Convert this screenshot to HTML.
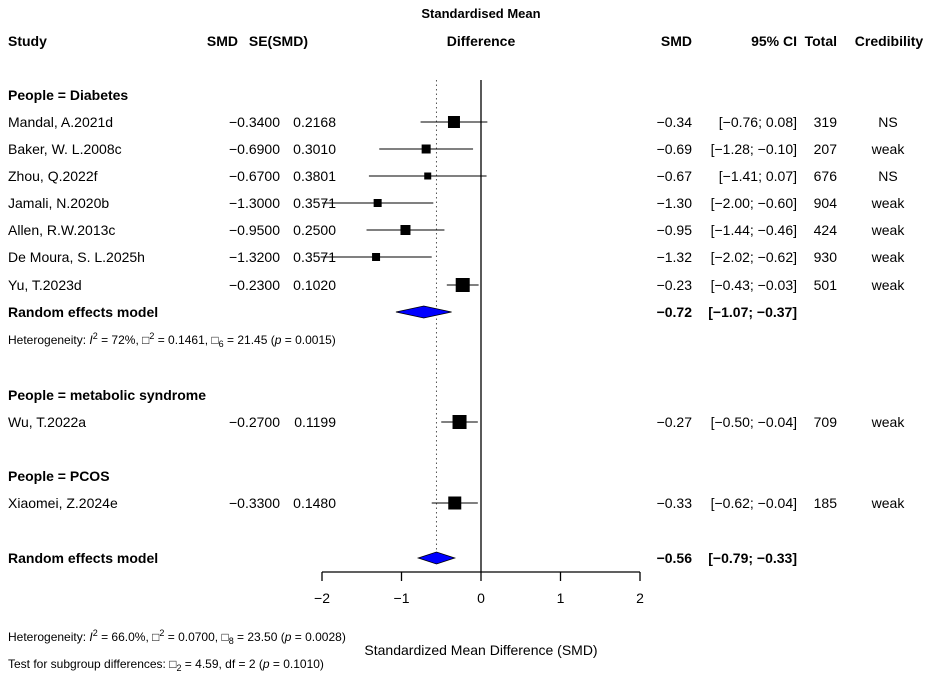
<!DOCTYPE html>
<html><head><meta charset="utf-8"><style>
body{margin:0;background:#fff}
svg{display:block;font-family:"Liberation Sans",Arial,sans-serif;font-size:14px;fill:#000}
.b{font-weight:bold}
</style></head><body>
<svg id="c" width="935" height="683" xmlns="http://www.w3.org/2000/svg">
<text x="481" y="18" text-anchor="middle" class="b" font-size="13">Standardised Mean</text>
<text x="8" y="46" class="b">Study</text>
<text x="238" y="46" text-anchor="end" class="b">SMD</text>
<text x="308" y="46" text-anchor="end" class="b">SE(SMD)</text>
<text x="481" y="46" text-anchor="middle" class="b">Difference</text>
<text x="692" y="46" text-anchor="end" class="b">SMD</text>
<text x="797" y="46" text-anchor="end" class="b">95% CI</text>
<text x="837" y="46" text-anchor="end" class="b">Total</text>
<text x="889" y="46" text-anchor="middle" class="b">Credibility</text>
<g id="g"></g>
<text x="8" y="344" font-size="12">Heterogeneity: <tspan font-style="italic">I</tspan><tspan dy="-5" font-size="9">2</tspan><tspan dy="5"> = 72%, □</tspan><tspan dy="-5" font-size="9">2</tspan><tspan dy="5"> = 0.1461, □</tspan><tspan dy="3" font-size="9">6</tspan><tspan dy="-3"> = 21.45 (</tspan><tspan font-style="italic">p</tspan> = 0.0015)</text>
<text x="8" y="641" font-size="12">Heterogeneity: <tspan font-style="italic">I</tspan><tspan dy="-5" font-size="9">2</tspan><tspan dy="5"> = 66.0%, □</tspan><tspan dy="-5" font-size="9">2</tspan><tspan dy="5"> = 0.0700, □</tspan><tspan dy="3" font-size="9">8</tspan><tspan dy="-3"> = 23.50 (</tspan><tspan font-style="italic">p</tspan> = 0.0028)</text>
<text x="8" y="668" font-size="12">Test for subgroup differences: □<tspan dy="3" font-size="9">2</tspan><tspan dy="-3"> = 4.59, df = 2 (</tspan><tspan font-style="italic">p</tspan> = 0.1010)</text>
<text x="481" y="655" text-anchor="middle">Standardized Mean Difference (SMD)</text>
</svg>
<script>
const studies=["Mandal, A.2021d","Baker, W. L.2008c","Zhou, Q.2022f","Jamali, N.2020b","Allen, R.W.2013c","De Moura, S. L.2025h","Yu, T.2023d","Wu, T.2022a","Xiaomei, Z.2024e"];
const smd=[-0.34,-0.69,-0.67,-1.30,-0.95,-1.32,-0.23,-0.27,-0.33];
const se=["0.2168","0.3010","0.3801","0.3571","0.2500","0.3571","0.1020","0.1199","0.1480"];
const lo=[-0.76,-1.28,-1.41,-2.00,-1.44,-2.02,-0.43,-0.50,-0.62];
const hi=[0.08,-0.10,0.07,-0.60,-0.46,-0.62,-0.03,-0.04,-0.04];
const totals=[319,207,676,904,424,930,501,709,185];
const cred=["NS","weak","NS","weak","weak","weak","weak","weak","weak"];
const boxSize=[12,9,7,8,10,8,14,14,13];
const rowIdx=[1,2,3,4,5,6,7,13,17];
const pooledEst=[-0.72,-0.56],pooledLo=[-1.07,-0.79],pooledHi=[-0.37,-0.33],pooledRow=[8,19];
const groups=["People = Diabetes","People = metabolic syndrome","People = PCOS"],groupRow=[0,12,16];
const ticks=[-2,-1,0,1,2];
const NS="http://www.w3.org/2000/svg",g=document.getElementById('g');
const X=v=>481+v*79.5;
const Y=r=>[95,122,149,176,203,230,257,285,312,339,367,381,395,422,449,463,476,503,530,558][r];
function el(t,a,txt){const e=document.createElementNS(NS,t);for(const k in a)e.setAttribute(k,a[k]);if(txt!=null)e.textContent=txt;g.appendChild(e);return e;}
const f=v=>(v<0?"\u2212":"")+Math.abs(v).toFixed(2);
const f4=v=>(v<0?"\u2212":"")+Math.abs(v).toFixed(4);
const ci=(a,b)=>"["+f(a)+"; "+(b<0?"":" ")+f(b)+"]";
let e;
e=el('line',{x1:X(0),x2:X(0),y1:80,y2:572,stroke:'#000','stroke-width':1.3});

e=el('line',{x1:X(pooledEst[1]),x2:X(pooledEst[1]),y1:80,y2:566,stroke:'#555','stroke-width':1,'stroke-dasharray':'1.5,3'});

e=el('line',{x1:X(ticks[0]),x2:X(ticks[ticks.length-1]),y1:572,y2:572,stroke:'#000','stroke-width':1.3});

ticks.forEach(t=>{
 e=el('line',{x1:X(t),x2:X(t),y1:572,y2:581,stroke:'#000','stroke-width':1.3});
 
 e=el('text',{x:X(t),y:603,'text-anchor':'middle'},t<0?"\u2212"+(-t):String(t));
 
});
groups.forEach((s,i)=>{e=el('text',{x:8,y:Y(groupRow[i])+5,class:'b'},s);
 });
studies.forEach((s,i)=>{
 const y=Y(rowIdx[i]),ty=y+5;
 e=el('text',{x:8,y:ty},s);
 e=el('text',{x:280,y:ty,'text-anchor':'end'},f4(smd[i]));
 e=el('text',{x:336,y:ty,'text-anchor':'end'},se[i]);
 e=el('line',{x1:X(lo[i]),x2:X(hi[i]),y1:y,y2:y,stroke:'#000','stroke-width':1});
 const b=boxSize[i];
 e=el('rect',{x:X(smd[i])-b/2,y:y-b/2,width:b,height:b,fill:'#000'});
 e=el('text',{x:692,y:ty,'text-anchor':'end'},f(smd[i]));
 e=el('text',{x:797,y:ty,'text-anchor':'end','xml:space':'preserve'},ci(lo[i],hi[i]));
 e=el('text',{x:837,y:ty,'text-anchor':'end'},totals[i]);
 e=el('text',{x:888,y:ty,'text-anchor':'middle'},cred[i]);
});
pooledEst.forEach((p,i)=>{
 const y=Y(pooledRow[i]),ty=y+5;
 e=el('text',{x:8,y:ty,class:'b'},"Random effects model");
 e=el('polygon',{points:`${X(pooledLo[i])},${y} ${X(p)},${y-6} ${X(pooledHi[i])},${y} ${X(p)},${y+6}`,fill:'#0000ff',stroke:'#000','stroke-width':0.8});
 
 e=el('text',{x:692,y:ty,'text-anchor':'end',class:'b'},f(p));
 e=el('text',{x:797,y:ty,'text-anchor':'end',class:'b'},ci(pooledLo[i],pooledHi[i]));
});
</script>
</body></html>
